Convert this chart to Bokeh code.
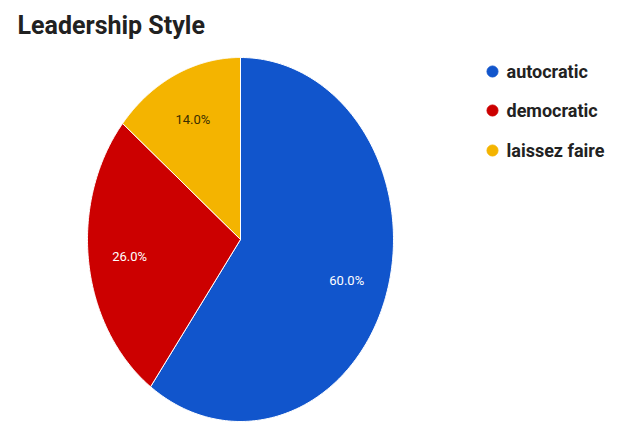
import numpy as np
from bokeh.plotting import figure
from bokeh.models import Range1d, ColumnDataSource
from bokeh.core.properties import value
from bokeh.embed import file_html
from bokeh.resources import INLINE

# ---- data ----
title = "Leadership Style"
categories = ["autocratic", "democratic", "laissez faire"]
shares = [60.0, 26.0, 14.0]
colors = ["#1155cc", "#cc0000", "#f4b400"]
label_colors = ["#ffffff", "#ffffff", "#3a2e00"]

# ---- layout ----
W, H = 623, 423
cx, cy = 240, 239
rx, ry = 153, 182
label_frac = 0.73

p = figure(width=W, height=H, output_backend="svg", toolbar_location=None,
           x_range=Range1d(0, W), y_range=Range1d(H, 0),
           x_axis_location=None, y_axis_location=None, min_border=0)
p.grid.visible = False
p.outline_line_color = None
p.background_fill_color = "white"
p.border_fill_color = "white"

total = sum(shares)
cum = np.cumsum([0] + shares) / total
xs, ys, lx, ly = [], [], [], []
for i in range(len(shares)):
    t = np.linspace(cum[i], cum[i + 1], 200) * 2 * np.pi
    px = [cx] + list(cx + rx * np.sin(t)) + [cx]
    py = [cy] + list(cy - ry * np.cos(t)) + [cy]
    xs.append(px)
    ys.append(py)
    m = (cum[i] + cum[i + 1]) / 2 * 2 * np.pi
    lx.append(cx + label_frac * rx * np.sin(m))
    ly.append(cy - label_frac * ry * np.cos(m))

src = ColumnDataSource(dict(xs=xs, ys=ys, color=colors))
p.patches("xs", "ys", source=src, fill_color="color", line_color="white", line_width=1)

lsrc = ColumnDataSource(dict(x=lx, y=ly, text=[f"{s:.1f}%" for s in shares], c=label_colors))
p.text("x", "y", text="text", source=lsrc, text_color="c", text_font=value("Roboto"),
       text_font_size="13px", text_align="center", text_baseline="middle")

# title
p.text([17], [25], text=[title], text_font=value("Roboto"), text_font_style="bold",
       text_font_size="25px", text_color="#212121", text_baseline="middle")

# legend
leg_y = [71, 110, 150]
p.scatter([492] * 3, leg_y, size=11, color=colors, marker="circle")
p.text([506] * 3, leg_y, text=categories, text_font=value("Roboto"), text_font_style="bold",
       text_font_size="18px", text_color="#222222", text_baseline="middle")

open("out.html", "w").write(file_html(p, INLINE))
